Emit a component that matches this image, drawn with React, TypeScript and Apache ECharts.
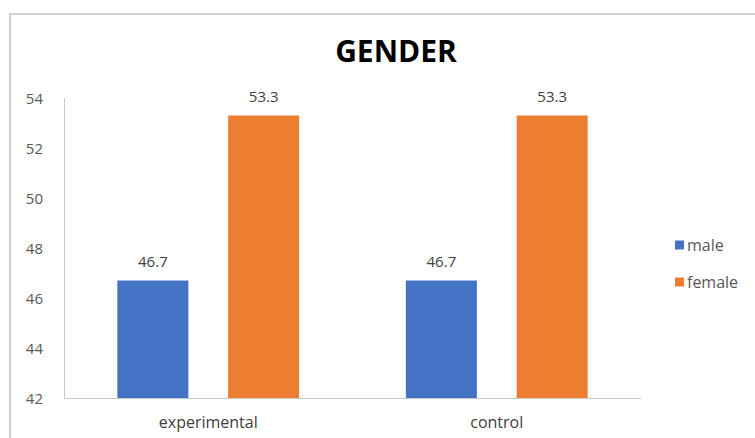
import React, { useEffect, useRef } from "react";
import * as echarts from "echarts";

const categories = ["experimental", "control"];
const maleValues = [46.7, 46.7];
const femaleValues = [53.3, 53.3];
const seriesNames = ["male", "female"];

export default function App() {
  const ref = useRef<HTMLDivElement>(null);
  useEffect(() => {
    if (!ref.current) return;
    const chart = echarts.init(ref.current, undefined, { renderer: "svg" });
    const font = "'Open Sans', sans-serif";
    chart.setOption({
      animation: false,
      backgroundColor: "#ffffff",
      title: {
        text: "GENDER",
        left: 391,
        top: 30,
        textAlign: "center",
        textStyle: { fontFamily: font, fontWeight: "bold", fontSize: 30, color: "#000000" },
      },
      legend: {
        orient: "vertical",
        left: 670,
        top: 232,
        itemWidth: 9,
        itemHeight: 9,
        itemGap: 21,
        icon: "rect",
        textStyle: { fontFamily: font, fontSize: 16, color: "#595959", padding: [0, 0, 0, -2] },
        data: seriesNames,
      },
      graphic: [
        {
          type: "rect",
          shape: { x: 10, y: 14, width: 760, height: 440 },
          style: { fill: "none", stroke: "#cfcfcf", lineWidth: 2 },
          silent: true,
        },
      ],
      grid: { left: 64, right: 114, top: 98, bottom: 40 },
      xAxis: {
        type: "category",
        data: categories,
        axisLine: { show: true, lineStyle: { color: "#c8c8c8", width: 1 } },
        axisTick: { show: false },
        axisLabel: { fontFamily: font, fontSize: 16, color: "#404040", margin: 16 },
      },
      yAxis: {
        type: "value",
        min: 42,
        max: 54,
        interval: 2,
        axisLine: { show: true, lineStyle: { color: "#c8c8c8", width: 1 } },
        axisTick: { show: false },
        splitLine: { show: false },
        axisLabel: { fontFamily: font, fontSize: 15, color: "#595959", margin: 21 },
      },
      series: [
        {
          name: seriesNames[0],
          type: "bar",
          data: maleValues,
          barWidth: 71,
          barGap: "56%",
          itemStyle: { color: "#4472C4" },
          label: { show: true, position: "top", distance: 12, fontFamily: font, fontSize: 15, color: "#404040" },
        },
        {
          name: seriesNames[1],
          type: "bar",
          data: femaleValues,
          barWidth: 71,
          barGap: "56%",
          itemStyle: { color: "#ED7D31" },
          label: { show: true, position: "top", distance: 12, fontFamily: font, fontSize: 15, color: "#404040" },
        },
      ],
    });
    return () => chart.dispose();
  }, []);
  return (
    <div
      ref={ref}
      style={{ position: "fixed", left: 0, top: 0, width: 755, height: 438 }}
    />
  );
}
